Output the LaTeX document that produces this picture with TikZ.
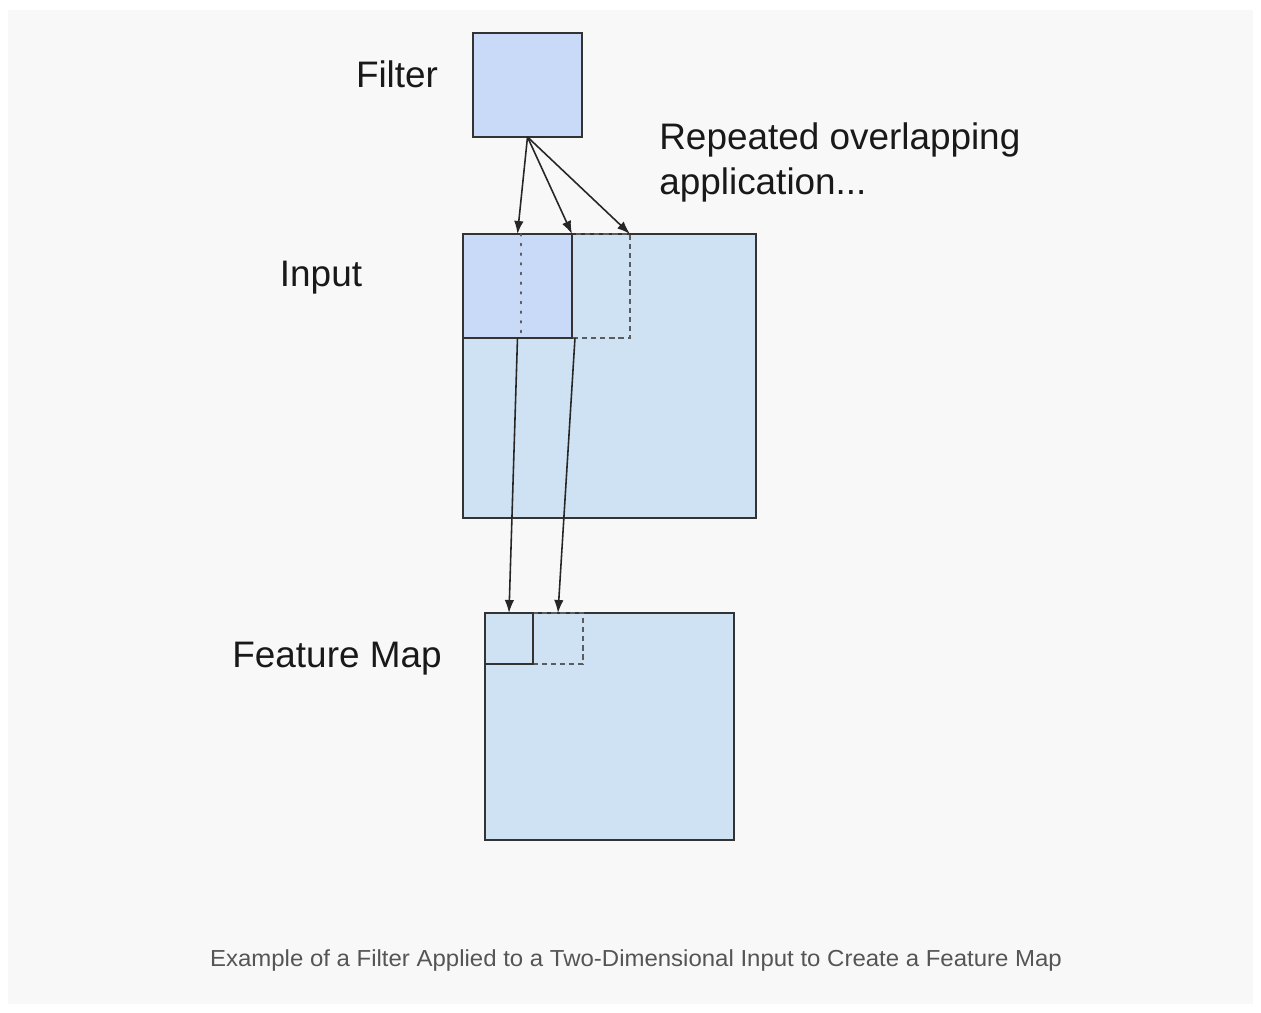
\documentclass[tikz,border=0pt]{standalone}
\usepackage{fontspec}
\setmainfont{Liberation Sans}
\usetikzlibrary{arrows.meta}
\definecolor{panelbg}{HTML}{F8F8F8}
\definecolor{edge}{HTML}{333333}
\definecolor{filterfill}{HTML}{C9DAF8}
\definecolor{inputfill}{HTML}{CFE2F3}
\definecolor{captiongray}{HTML}{555555}
\tikzset{
  sq/.style={rectangle, anchor=north west, inner sep=0pt, outer sep=0pt, draw=edge, line width=1.1pt},
  dashbox/.style={draw=edge!80, line width=0.9pt, dash pattern=on 3pt off 2.2pt},
  dotline/.style={draw=edge!80, line width=1pt, dash pattern=on 1pt off 4.5pt, line cap=round},
  arr/.style={draw=black!85, line width=0.9pt, -{Latex[length=0.26cm,width=0.19cm]}},
  lbl/.style={font=\fontsize{21pt}{25pt}\selectfont, text=black!90, inner sep=0pt, anchor=base},
}
\begin{document}
\begin{tikzpicture}[x=0.02cm,y=-0.02cm]
\useasboundingbox[fill=white] (0,0) rectangle (1261,1013);
\fill[panelbg] (8,10) rectangle (1253,1004);
% filter
\node[sq, fill=filterfill, minimum width=2.18cm, minimum height=2.08cm] (filter) at (473,33) {};
% input
\node[sq, fill=inputfill, minimum width=5.86cm, minimum height=5.68cm] (input) at (463,234) {};
\node[sq, draw=none, minimum width=2.18cm, minimum height=2.08cm] (dash) at (521,234) {};
\draw[dashbox] (dash.north west) -- (dash.north east) -- (dash.south east) -- (dash.south west);
\node[sq, fill=filterfill, minimum width=2.18cm, minimum height=2.08cm] (overlay) at (463,234) {};
\draw[dotline] (dash.north west) -- (dash.south west);
% feature map
\node[sq, fill=inputfill, minimum width=4.98cm, minimum height=4.54cm] (fmap) at (485,613) {};
\node[sq, draw=none, minimum width=1.0cm, minimum height=1.02cm] (fdash) at (533,613) {};
\draw[dashbox] (fdash.north west) -- (fdash.north east) -- (fdash.south east) -- (fdash.south west);
\node[sq, minimum width=0.96cm, minimum height=1.02cm] (fsmall) at (485,613) {};
% arrows
\draw[arr] (filter.south) -- (overlay.north);
\draw[arr] (filter.south) -- (overlay.north east);
\draw[arr] (filter.south) -- (dash.north east);
\draw[arr] (overlay.south) -- (fsmall.north);
\draw[arr] ([xshift=0.06cm]overlay.south east) -- (fdash.north);
% labels
\node[lbl] (lfilter) at (397,88) {Filter};
\node[lbl] (linput) at (321,287) {Input};
\node[lbl] (lfmap) at (337,667) {Feature Map};
\node[lbl, anchor=base west] (lrep1) at (659,150) {Repeated overlapping};
\node[lbl, anchor=base west] (lrep2) at (659,195) {application...};
\node[anchor=base, inner sep=0pt, text=captiongray, font=\fontsize{13.2pt}{15pt}\selectfont] (caption) at (636,966)
  {\resizebox{17.04cm}{\height}{Example of a Filter Applied to a Two-Dimensional Input to Create a Feature Map}};
\end{tikzpicture}
\end{document}
